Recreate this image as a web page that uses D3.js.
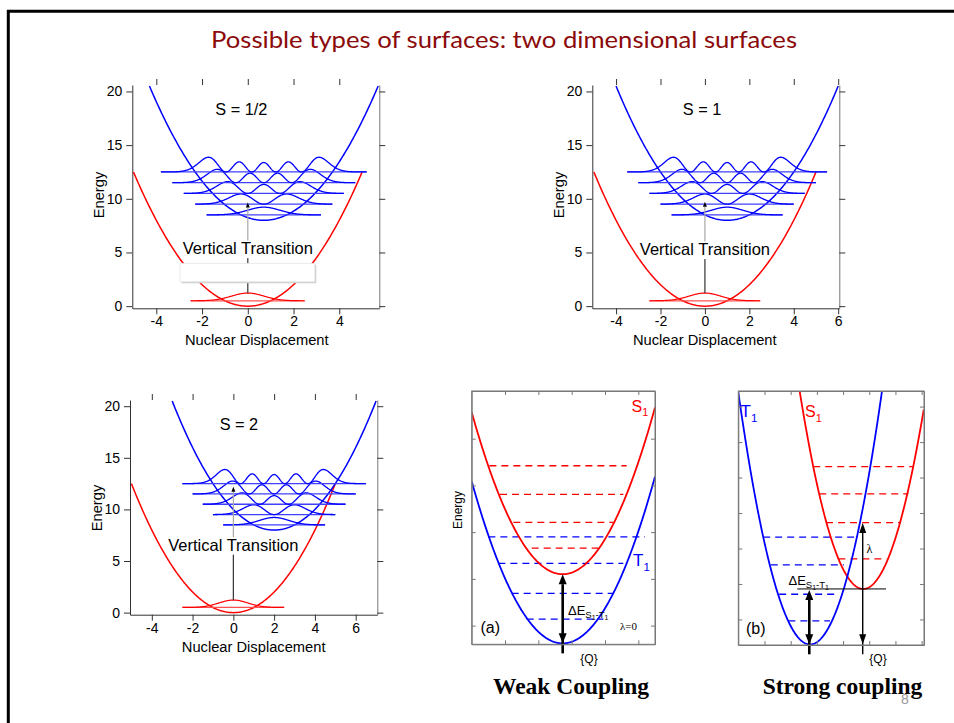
<!DOCTYPE html>
<html><head><meta charset="utf-8">
<script src="https://cdn.jsdelivr.net/npm/d3@7"></script>
<style>html,body{margin:0;padding:0;background:#fff;} svg{display:block;}</style>
</head><body>
<svg id="c" width="954" height="723"></svg>
<script>
// ================= DATA =================
const titleText = "Possible types of surfaces: two dimensional surfaces";
const sLabels = ["S = 1/2", "S = 1", "S = 2"];
const displacements = [0.7, 1.0, 2.0];
const xDomains = [[-5.05, 5.75], [-5.07, 6.05], [-5.07, 7.06]];
const xTickValues = [[-4, -2, 0, 2, 4], [-4, -2, 0, 2, 4, 6], [-4, -2, 0, 2, 4, 6]];
const yTickValues = [0, 5, 10, 15, 20];
const yDomain = [-0.2, 20.6];
const curvature = 0.5;
const groundMin = 0;
const excitedMin = 8;
const groundRange = [-5, 5];
const excitedHalfRange = 5;
const excitedLevels = [8.5, 9.5, 10.5, 11.5, 12.5];
const excitedHalfWidths = [2.5, 3.0, 3.5, 4.0, 4.5];
const excitedAmps = [0.72, 0.95, 1.1, 1.25, 1.37];
const groundLevel = 0.5;
const groundHalfWidth = 2.5;
const groundAmp = 0.72;
const transitionTops = [9.65, 9.72, 12.2];
const transitionLabel = "Vertical Transition";
const xAxisTitle = "Nuclear Displacement";
const yAxisTitle = "Energy";

// weak coupling schematic (a)
const weakQDomain = [0, 5.5];
const weakEDomain = [0.6, 6.02];
const weakQTicks = [1, 2, 3, 4, 5];
const weakETicks = [1, 2, 3, 4, 5];
const weakCenter = 2.73;
const weakT1Min = 0.62;
const weakS1Min = 2.1;
const weakCurv = 0.465;
const weakS1Levels = [2.66, 3.21, 3.81, 4.42];
const weakS1Extents = [[1.8, 3.8], [1.25, 4.25], [0.85, 4.55], [0.53, 4.65]];
const weakT1Levels = [1.14, 1.69, 2.33, 2.90];
const weakT1Extents = [[1.65, 3.95], [1.2, 4.25], [0.8, 4.55], [0.5, 5.2]];

// strong coupling schematic (b)
const strongQDomain = [0, 7.09];
const strongEDomain = [0.28, 7.44];
const strongQTicks = [1, 2, 3, 4, 5, 6, 7];
const strongETicks = [1, 2, 3, 4, 5, 6, 7];
const strongT1Center = 2.74, strongT1Min = 0.296;
const strongS1Center = 4.77, strongS1Min = 1.86;
const strongCurv = 0.947;
const strongS1Levels = [2.71, 3.73, 4.54, 5.31];
const strongS1Extents = [[3.82, 5.66], [3.35, 6.17], [3.09, 6.49], [2.86, 6.68]];
const strongT1Levels = [0.96, 1.71, 2.54, 3.32];
const strongT1Extents = [[1.91, 3.50], [1.56, 3.69], [1.24, 4.03], [0.95, 4.58]];
const strongRefLine = {E: 1.86, q0: 2.25, q1: 5.64};
const strongGapArrow = {q: 2.71, e0: 0.3, e1: 1.83};
const strongLambdaArrow = {q: 4.75, e0: 0.3, e1: 3.72};

const captions = ["Weak Coupling", "Strong coupling"];
const pageNumber = "8";

// ================= LAYOUT =================
const BLUE = "#0000ff", RED = "#ff0000";
const SANS = "'Liberation Sans', Arial, Helvetica, sans-serif";
const SERIF = "'Liberation Serif', 'Times New Roman', serif";
const topBoxes = [
  {l: 132.3, r: 379.3, t: 85, b: 308.3},
  {l: 592.3, r: 839.3, t: 85, b: 308.3},
  {l: 130, r: 377.3, t: 400, b: 614.7}
];
const sLabelPos = [[-0.28, 17.77], [-0.13, 17.77], [0.27, 17.7]];
const transitionLabelE = [4.85, 4.76, 6.0];
const yTitlePos = [[104, 195], [563.5, 195], [102, 508]];

const svg = d3.select("#c");
svg.append("rect").attr("width", 954).attr("height", 723).attr("fill", "#fff");
svg.append("path").attr("d", "M8.3,723 L8.3,11.2 L954,11.2")
  .attr("fill", "none").attr("stroke", "#000").attr("stroke-width", 3);

svg.append("text").attr("x", 504).attr("y", 48).attr("text-anchor", "middle")
  .attr("font-family", "'Comic Sans MS', Lato, sans-serif").attr("font-size", 24)
  .attr("fill", "#8b0a0a").attr("textLength", 586).attr("lengthAdjust", "spacingAndGlyphs")
  .text(titleText);

function psi2(n, u) {
  let h0 = 1, h1 = 2 * u;
  if (n === 0) return Math.exp(-u * u);
  for (let k = 1; k < n; k++) { const h2 = 2 * u * h1 - 2 * k * h0; h0 = h1; h1 = h2; }
  return h1 * h1 * Math.exp(-u * u);
}
function psi2Max(n) {
  let m = 0;
  for (let u = -6; u <= 6; u += 0.005) m = Math.max(m, psi2(n, u));
  return m;
}

function vArrow(g, xp, yFrom, yTo, o) {
  const dir = yTo < yFrom ? -1 : 1;
  const s = o.both ? yFrom - dir * o.headL : yFrom;
  const e = yTo - dir * o.headL;
  g.append("line").attr("x1", xp).attr("x2", xp).attr("y1", s).attr("y2", e)
    .attr("stroke", o.color).attr("stroke-width", o.width);
  const head = (tip, d) => g.append("path")
    .attr("d", `M${xp},${tip} L${xp - o.headW / 2},${tip - d * o.headL} L${xp + o.headW / 2},${tip - d * o.headL} Z`)
    .attr("fill", o.headColor || o.color);
  head(yTo, dir);
  if (o.both) head(yFrom, -dir);
}

function energyPanel(i) {
  const box = topBoxes[i];
  const d = displacements[i];
  const g = svg.append("g");
  const x = d3.scaleLinear().domain(xDomains[i]).range([box.l, box.r]);
  const y = d3.scaleLinear().domain(yDomain).range([box.b, box.t]);
  const axc = "#333";
  const styleAxis = sel => {
    sel.selectAll("path,line").attr("stroke", axc);
    sel.selectAll("text").attr("font-family", SANS).attr("font-size", 14).attr("fill", "#000");
  };
  g.append("g").attr("transform", `translate(0,${box.b})`)
    .call(d3.axisBottom(x).tickValues(xTickValues[i]).tickSize(6).tickSizeOuter(0).tickPadding(2).tickFormat(v => String(v)))
    .call(styleAxis);
  g.append("g").attr("transform", `translate(0,${box.t})`)
    .call(d3.axisTop(x).tickValues(xTickValues[i]).tickSize(6).tickSizeOuter(0).tickFormat(""))
    .call(styleAxis)
    .call(s => s.select(".domain").remove());
  g.append("g").attr("transform", `translate(${box.l},0)`)
    .call(d3.axisLeft(y).tickValues(yTickValues).tickSize(6).tickSizeOuter(0).tickPadding(4).tickFormat(v => String(v)))
    .call(styleAxis);
  g.append("g").attr("transform", `translate(${box.r},0)`)
    .call(d3.axisRight(y).tickValues(yTickValues).tickSize(6).tickSizeOuter(0).tickFormat(""))
    .call(styleAxis)
    .call(s => s.select(".domain").attr("stroke", "#777"));

  g.append("text").attr("x", (box.l + box.r) / 2 + (i === 0 ? 1 : i === 1 ? -11 : 0))
    .attr("y", box.b + 37).attr("text-anchor", "middle")
    .attr("font-family", SANS).attr("font-size", 14.7).text(xAxisTitle);
  g.append("text").attr("transform", `translate(${yTitlePos[i][0]},${yTitlePos[i][1]}) rotate(-90)`)
    .attr("text-anchor", "middle").attr("font-family", SANS).attr("font-size", 14.7).text(yAxisTitle);

  const line = d3.line().x(p => x(p[0])).y(p => y(p[1]));
  const gq = d3.range(groundRange[0], groundRange[1] + 1e-9, 0.05);
  g.append("path").attr("d", line(gq.map(q => [q, groundMin + curvature * q * q])))
    .attr("fill", "none").attr("stroke", RED).attr("stroke-width", 1.5);
  const eq = d3.range(d - excitedHalfRange, d + excitedHalfRange + 1e-9, 0.05);
  g.append("path").attr("d", line(eq.map(q => [q, excitedMin + curvature * (q - d) * (q - d)])))
    .attr("fill", "none").attr("stroke", BLUE).attr("stroke-width", 1.5);

  const gm = psi2Max(0);
  g.append("line").attr("x1", x(-groundHalfWidth)).attr("x2", x(groundHalfWidth))
    .attr("y1", y(groundLevel)).attr("y2", y(groundLevel)).attr("stroke", "#ff5050").attr("stroke-width", 1.2);
  const gw = d3.range(-groundHalfWidth, groundHalfWidth + 1e-9, 0.03);
  g.append("path").attr("d", line(gw.map(q => [q, groundLevel + groundAmp * psi2(0, q) / gm])))
    .attr("fill", "none").attr("stroke", RED).attr("stroke-width", 1.2);

  excitedLevels.forEach((E, n) => {
    const hw = excitedHalfWidths[n];
    const m = psi2Max(n);
    g.append("line").attr("x1", x(d - hw)).attr("x2", x(d + hw)).attr("y1", y(E)).attr("y2", y(E))
      .attr("stroke", "#4040ff").attr("stroke-width", 1.3);
    const qs = d3.range(-hw, hw + 1e-9, 0.02);
    g.append("path").attr("d", line(qs.map(u => [d + u, E + excitedAmps[n] * psi2(n, u) / m])))
      .attr("fill", "none").attr("stroke", BLUE).attr("stroke-width", 1.3);
  });

  const e0 = groundLevel + groundAmp;
  const top = transitionTops[i];
  const yl = y(transitionLabelE[i]);
  g.append("line").attr("x1", x(0)).attr("x2", x(0)).attr("y1", y(e0)).attr("y2", yl)
    .attr("stroke", "#333").attr("stroke-width", 1.2);
  vArrow(g, x(0), yl, y(top), {color: "#a8a8a8", headColor: "#000", width: 1.2, headW: 4, headL: 5, both: false});
  const tg = g.append("g");
  const bg = tg.append("rect").attr("fill", "#fff");
  const t = tg.append("text").attr("x", x(0)).attr("y", yl).attr("text-anchor", "middle")
    .attr("font-family", SANS).attr("font-size", 16.5).text(transitionLabel);
  const bb = t.node().getBBox();
  bg.attr("x", bb.x).attr("y", yl - 13.5).attr("width", bb.width).attr("height", 17.5);

  if (i === 0) {
    const bx0 = x(-2.96), bx1 = x(2.93), by0 = y(3.99), by1 = y(2.27);
    g.append("rect").attr("x", bx0 + 1.5).attr("y", by0 + 1.5).attr("width", bx1 - bx0).attr("height", by1 - by0)
      .attr("fill", "#cfcfcf");
    g.append("rect").attr("x", bx0).attr("y", by0).attr("width", bx1 - bx0).attr("height", by1 - by0)
      .attr("fill", "#fff").attr("stroke", "#e6e6e6").attr("stroke-width", 0.8);
  }

  g.append("text").attr("x", x(sLabelPos[i][0])).attr("y", y(sLabelPos[i][1])).attr("text-anchor", "middle")
    .attr("font-family", SANS).attr("font-size", 16.3).text(sLabels[i]);
}
[0, 1, 2].forEach(energyPanel);

// ================= schematic panels =================
function frameAxes(g, box, x, y, qTicks, eTicks) {
  const c = "#777";
  const st = sel => { sel.selectAll("path,line").attr("stroke", c); };
  g.append("g").attr("transform", `translate(0,${box.b})`)
    .call(d3.axisBottom(x).tickValues(qTicks).tickSize(-4).tickSizeOuter(0).tickFormat("")).call(st);
  g.append("g").attr("transform", `translate(0,${box.t})`)
    .call(d3.axisTop(x).tickValues(qTicks).tickSize(-4).tickSizeOuter(0).tickFormat("")).call(st);
  g.append("g").attr("transform", `translate(${box.l},0)`)
    .call(d3.axisLeft(y).tickValues(eTicks).tickSize(-4).tickSizeOuter(0).tickFormat("")).call(st);
  g.append("g").attr("transform", `translate(${box.r},0)`)
    .call(d3.axisRight(y).tickValues(eTicks).tickSize(-4).tickSizeOuter(0).tickFormat("")).call(st);
}
function subLabel(g, xp, yp, main, sub, color, size) {
  const t = g.append("text").attr("x", xp).attr("y", yp).attr("font-family", SANS)
    .attr("font-size", size).attr("fill", color);
  t.append("tspan").text(main);
  t.append("tspan").attr("dy", size * 0.3).attr("font-size", size * 0.68).text(sub);
  return t;
}
function deltaLabel(g, xp, yp) {
  const t = g.append("text").attr("x", xp).attr("y", yp).attr("font-family", SANS).attr("font-size", 13);
  t.append("tspan").text("\u0394E");
  t.append("tspan").attr("dy", 3).attr("font-size", 9.5).text("S");
  t.append("tspan").attr("dy", 2).attr("font-size", 7).text("1");
  t.append("tspan").attr("dy", -2).attr("font-size", 9.5).text("-T");
  t.append("tspan").attr("dy", 2).attr("font-size", 7).text("1");
}

let clipId = 0;
function schematicBase(box, qd, ed) {
  const g = svg.append("g");
  const x = d3.scaleLinear().domain(qd).range([box.l, box.r]);
  const y = d3.scaleLinear().domain(ed).range([box.b, box.t]);
  const id = "clip" + (clipId++);
  svg.append("clipPath").attr("id", id).append("rect")
    .attr("x", box.l).attr("y", box.t).attr("width", box.r - box.l).attr("height", box.b - box.t);
  const inner = g.append("g").attr("clip-path", `url(#${id})`);
  return {g, inner, x, y};
}
function dashedLevels(g, x, y, levels, extents, color) {
  levels.forEach((E, k) => {
    g.append("line").attr("x1", x(extents[k][0])).attr("x2", x(extents[k][1]))
      .attr("y1", y(E)).attr("y2", y(E)).attr("stroke", color).attr("stroke-width", 1.3)
      .attr("stroke-dasharray", "7,5");
  });
}
function parab(g, x, y, qd, c, m, k, color) {
  const qs = d3.range(qd[0], qd[1] + 1e-9, 0.02);
  g.append("path").attr("d", d3.line().x(q => x(q)).y(q => y(m + k * (q - c) * (q - c)))(qs))
    .attr("fill", "none").attr("stroke", color).attr("stroke-width", 1.8);
}

// (a) weak coupling
{
  const box = {l: 471.7, r: 655, t: 391, b: 644.3};
  const {g, inner, x, y} = schematicBase(box, weakQDomain, weakEDomain);
  dashedLevels(inner, x, y, weakS1Levels, weakS1Extents, RED);
  dashedLevels(inner, x, y, weakT1Levels, weakT1Extents, BLUE);
  parab(inner, x, y, weakQDomain, weakCenter, weakS1Min, weakCurv, RED);
  parab(inner, x, y, weakQDomain, weakCenter, weakT1Min, weakCurv, BLUE);
  vArrow(g, x(weakCenter), y(weakT1Min), y(weakS1Min), {color: "#000", width: 2.6, headW: 8, headL: 10, both: true});
  g.append("rect").attr("x", box.l).attr("y", box.t).attr("width", box.r - box.l).attr("height", box.b - box.t)
    .attr("fill", "none").attr("stroke", "#777").attr("stroke-width", 1);
  frameAxes(g, box, x, y, weakQTicks, weakETicks);
  subLabel(g, 631.5, 411.5, "S", "1", RED, 16);
  subLabel(g, 633, 566, "T", "1", BLUE, 17);
  deltaLabel(g, 568, 615);
  g.append("text").attr("x", 620).attr("y", 630).attr("font-family", SERIF).attr("font-size", 11).text("\u03bb=0");
  g.append("text").attr("x", 480.5).attr("y", 633).attr("font-family", SANS).attr("font-size", 16).text("(a)");
  g.append("text").attr("x", 589).attr("y", 662.5).attr("text-anchor", "middle").attr("font-family", SANS).attr("font-size", 12).text("{Q}");
  g.append("text").attr("transform", "translate(462,510) rotate(-90)").attr("text-anchor", "middle")
    .attr("font-family", SANS).attr("font-size", 12).text(yAxisTitle);
  g.append("text").attr("x", 571).attr("y", 693.5).attr("text-anchor", "middle").attr("font-family", SERIF)
    .attr("font-weight", "bold").attr("font-size", 23.5).text(captions[0]);
}

// (b) strong coupling
{
  const box = {l: 738.3, r: 924, t: 391, b: 645};
  const {g, inner, x, y} = schematicBase(box, strongQDomain, strongEDomain);
  dashedLevels(inner, x, y, strongS1Levels, strongS1Extents, RED);
  dashedLevels(inner, x, y, strongT1Levels, strongT1Extents, BLUE);
  parab(inner, x, y, strongQDomain, strongS1Center, strongS1Min, strongCurv, RED);
  parab(inner, x, y, strongQDomain, strongT1Center, strongT1Min, strongCurv, BLUE);
  g.append("line").attr("x1", x(strongRefLine.q0)).attr("x2", x(strongRefLine.q1))
    .attr("y1", y(strongRefLine.E)).attr("y2", y(strongRefLine.E)).attr("stroke", "#000").attr("stroke-width", 1);
  vArrow(g, x(strongGapArrow.q), y(strongGapArrow.e0), y(strongGapArrow.e1), {color: "#000", width: 2.6, headW: 8, headL: 10, both: true});
  vArrow(g, x(strongLambdaArrow.q), y(strongLambdaArrow.e0), y(strongLambdaArrow.e1), {color: "#000", width: 1.4, headW: 7, headL: 10, both: true});
  g.append("rect").attr("x", box.l).attr("y", box.t).attr("width", box.r - box.l).attr("height", box.b - box.t)
    .attr("fill", "none").attr("stroke", "#777").attr("stroke-width", 1);
  frameAxes(g, box, x, y, strongQTicks, strongETicks);
  subLabel(g, 740.5, 417, "T", "1", BLUE, 17);
  subLabel(g, 805, 417, "S", "1", RED, 16);
  deltaLabel(g, 788.5, 584.5);
  g.append("text").attr("x", 866.5).attr("y", 553).attr("font-family", SERIF).attr("font-size", 12).text("\u03bb");
  g.append("text").attr("x", 746).attr("y", 633.5).attr("font-family", SANS).attr("font-size", 16).text("(b)");
  g.append("text").attr("x", 878).attr("y", 662.5).attr("text-anchor", "middle").attr("font-family", SANS).attr("font-size", 12).text("{Q}");
  g.append("text").attr("x", 842.5).attr("y", 693.5).attr("text-anchor", "middle").attr("font-family", SERIF)
    .attr("font-weight", "bold").attr("font-size", 23.5).text(captions[1]);
}
svg.append("text").attr("x", 905).attr("y", 704).attr("text-anchor", "middle").attr("font-family", SANS)
  .attr("font-size", 14).attr("fill", "#999").text(pageNumber);
</script>
</body></html>
